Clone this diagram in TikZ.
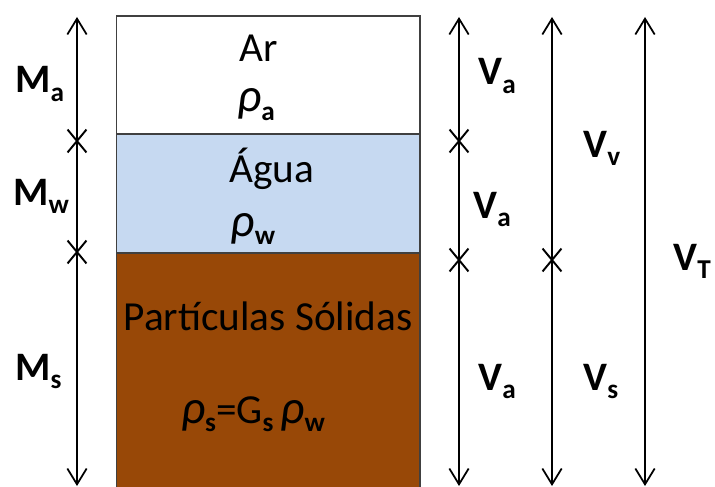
\documentclass[tikz,border=0pt]{standalone}
\usepackage{fontspec}
\setmainfont{Carlito}
\usepackage{xcolor}
\usetikzlibrary{arrows.meta, shapes.misc}
\definecolor{agua}{HTML}{C6D9F1}
\definecolor{solo}{HTML}{984807}
\newcommand{\ix}[1]{\lower0.45ex\hbox{\fontsize{15.5}{16}\selectfont\bfseries #1}}
\newcommand{\dens}[1]{{\itshape\fontsize{27}{28}\selectfont ρ}\ix{#1}}

\begin{document}
\begin{tikzpicture}[
  x=0.02cm, y=-0.02cm,
  font=\fontsize{23.5}{28}\selectfont,
  layer/.style={draw=black!75, line width=0.6pt, minimum width=6.08cm, inner sep=0pt},
  txt/.style={anchor=base, inner sep=0pt},
  lbl/.style={anchor=base west, inner sep=0pt, font=\fontsize{23}{28}\selectfont\bfseries},
  dim/.style={{Straight Barb[length=9pt,width=11pt]}-{Straight Barb[length=9pt,width=11pt]}, line width=1pt},
  tick/.style={cross out, draw, line width=1.1pt, minimum width=0.34cm, minimum height=0.42cm, inner sep=0pt}
]
\useasboundingbox (0,0) rectangle (715,486);

% phases
\node[layer, fill=white, minimum height=2.36cm] (ar) at (268,75) {};
\node[layer, fill=agua, minimum height=2.38cm] (agua) at (268,193.5) {};
\node[layer, fill=solo, minimum height=4.7cm] (solid) at (268,370.5) {};

\node[txt] (tar) at (259,62) {Ar};
\node[txt] (rar) at (256,112) {\dens{a}};
\node[txt] (tagua) at (272,182) {Água};
\node[txt] (ragua) at (253,236) {\dens{w}};
\node[txt] (tsolid) at (268,330) {Partículas Sólidas};
\node[txt] (rsolid) at (253,423) {\dens{s}=G\ix{s}\,\dens{w}};

% masses
\coordinate (mtop) at (77,17);
\coordinate (mbot) at (77,486);
\draw[dim] (mtop) -- (mbot);
\node[tick] (mx1) at (77,141) {};
\node[tick] (mx2) at (77,252) {};
\node[lbl] (ma) at (15,93) {M\ix{a}};
\node[lbl] (mw) at (13,205) {M\ix{w}};
\node[lbl] (ms) at (15,380) {M\ix{s}};

% volumes
\coordinate (v1top) at (459,17);
\coordinate (v1bot) at (459,486);
\draw[dim] (v1top) -- (v1bot);
\node[tick] (v1x1) at (459,141) {};
\node[tick] (v1x2) at (459,260) {};
\node[lbl] (va1) at (478,85) {V\ix{a}};
\node[lbl] (va2) at (473,218) {V\ix{a}};
\node[lbl] (va3) at (478,390) {V\ix{a}};

\coordinate (v2top) at (552,17);
\coordinate (v2bot) at (552,486);
\draw[dim] (v2top) -- (v2bot);
\node[tick] (v2x1) at (552,260) {};
\node[lbl] (vv) at (583,157) {V\ix{v}};
\node[lbl] (vs) at (583,390) {V\ix{s}};

\coordinate (v3top) at (645,17);
\coordinate (v3bot) at (645,486);
\draw[dim] (v3top) -- (v3bot);
\node[lbl] (vt) at (673,270) {V\ix{T}};
\end{tikzpicture}
\end{document}
